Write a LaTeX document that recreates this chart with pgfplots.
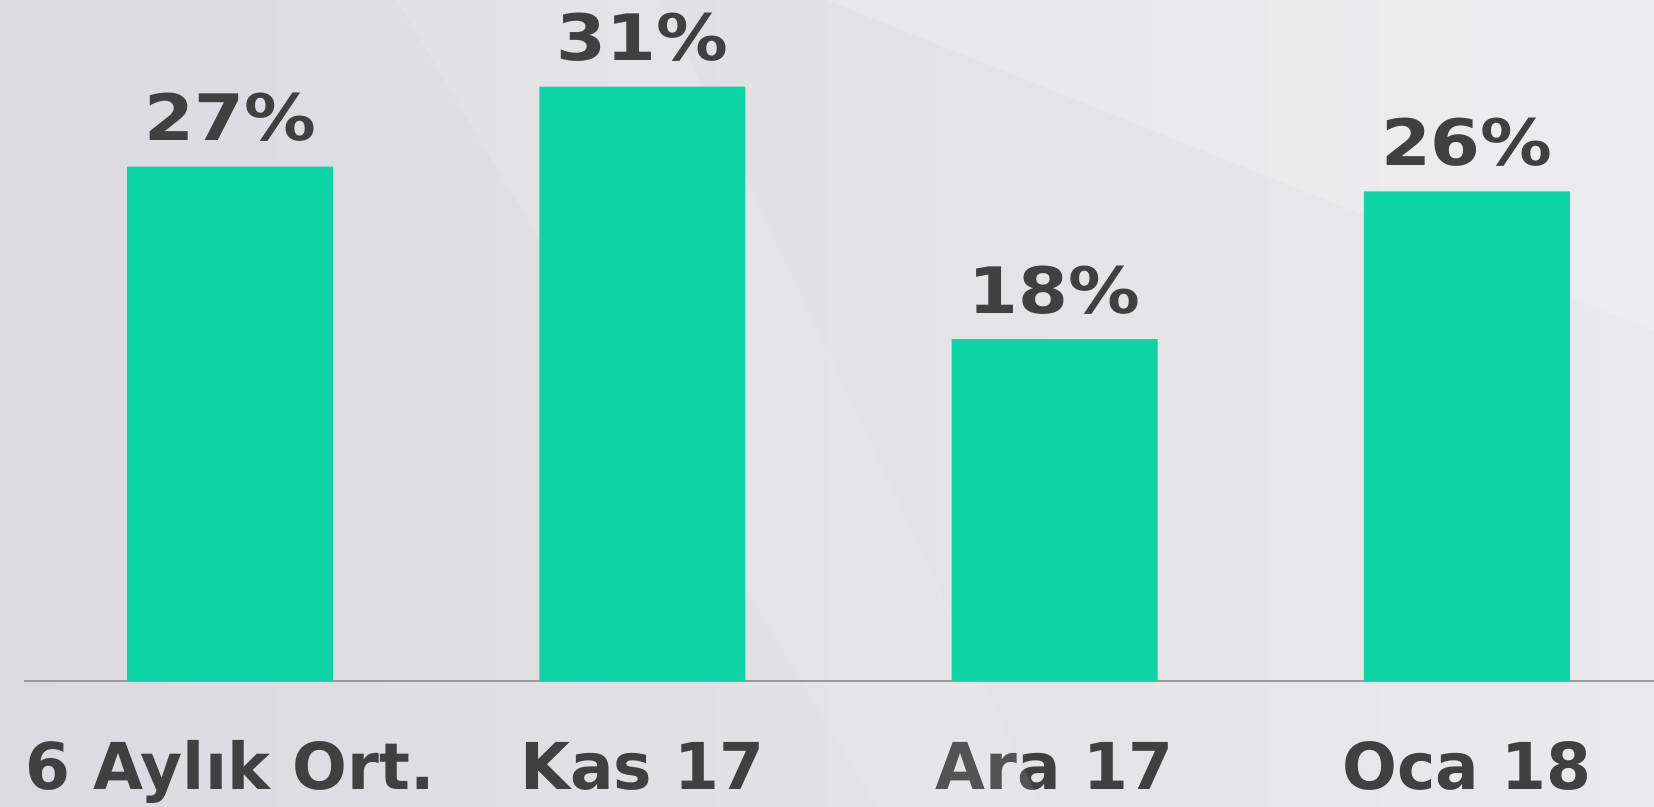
\documentclass[border=0pt]{standalone}
\usepackage{fontspec}
\setmainfont{DejaVu Sans}
\newfontfamily\valfont[FakeStretch=1.12]{DejaVu Sans}
\usepackage{pgfplots}
\pgfplotsset{compat=1.18}
\definecolor{barc}{HTML}{0ED5A6}
\definecolor{txt}{HTML}{404040}
\definecolor{bgA}{HTML}{DBDBDF}
\definecolor{bgB}{HTML}{EAEAEC}
\definecolor{axgray}{HTML}{9A9A9A}
\begin{document}
\begin{tikzpicture}
% the axis box is the whole picture: 827pt x 403.5pt (1px = 0.5pt)
\begin{axis}[
  scale only axis, width=827pt, height=403.5pt,
  xmin=-0.5583, xmax=3.454, ymin=-6.614, ymax=35.75,
  axis background/.style={shade, left color=bgA, right color=bgB},
  ybar, bar width=0.5,
  axis x line=middle, axis y line=none,
  x axis line style={draw=none},
  xtick={0,1,2,3},
  xticklabels={6 Aylık Ort., Kas 17, Ara 17, Oca 18},
  major tick length=0,
  xticklabel style={font=\fontsize{32.3}{36}\selectfont\bfseries, text=txt, anchor=base, yshift=-54pt},
  nodes near coords={\pgfmathprintnumber[fixed,precision=0]{\pgfplotspointmeta}\%},
  nodes near coords style={font=\valfont\fontsize{32}{36}\selectfont\bfseries, text=txt, anchor=base, yshift=13pt},
  /pgf/number format/assume math mode=true,
  clip=false,
]
\fill[white, opacity=0.18] (rel axis cs:0.5,1) -- (rel axis cs:1,1) -- (rel axis cs:1,0.59) -- cycle;
\fill[white, opacity=0.10] (rel axis cs:0.24,1) -- (rel axis cs:0.4,1) -- (rel axis cs:0.63,0) -- (rel axis cs:0.53,0) -- cycle;
\draw[axgray, line width=1.3pt] (axis cs:-0.5,0) -- (axis cs:3.454,0);
\addplot[fill=barc, draw=none] coordinates {(0,27.0) (1,31.2) (2,17.95) (3,25.7)};
\end{axis}
\pgfresetboundingbox
\useasboundingbox (current axis.south west) rectangle (current axis.north east);
\end{tikzpicture}
\end{document}
